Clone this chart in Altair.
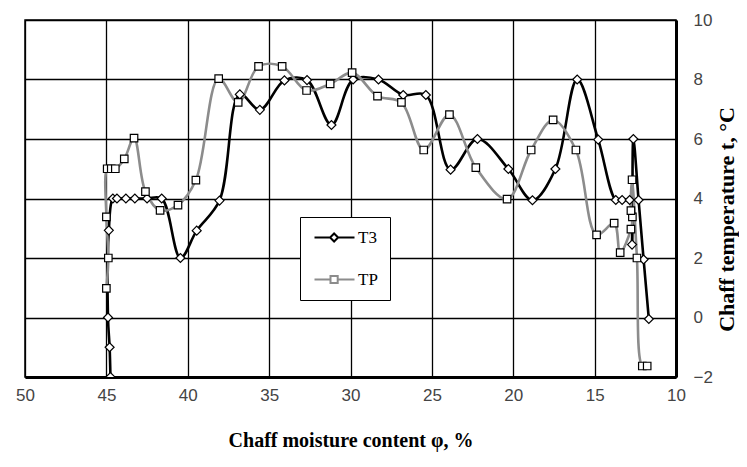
import altair as alt
import pandas as pd

series_names = ["T3", "TP"]

t3_moisture = [44.75, 44.8, 44.9, 44.85, 44.6, 44.35, 43.8, 43.25, 42.5, 41.6,
               40.45, 39.45, 38.05, 36.8, 35.57, 34.06, 32.67, 31.17, 29.84, 28.28,
               26.76, 25.37, 23.85, 22.2, 20.3, 18.82, 17.41, 16.07, 14.78, 13.7,
               13.31, 12.85, 12.7, 12.62, 12.3, 11.99, 11.67]
t3_temp = [-2.0, -1.0, 0.0, 2.93, 4.0, 4.0, 4.0, 4.0, 4.0, 4.0,
           2.0, 2.92, 3.93, 7.5, 6.98, 7.97, 7.98, 6.47, 8.0, 8.0,
           7.48, 7.48, 4.97, 6.0, 4.99, 3.94, 4.99, 8.0, 5.98, 3.95,
           3.95, 3.95, 2.45, 6.0, 3.95, 1.95, -0.05]

tp_moisture = [45.0, 44.88, 45.0, 44.95, 44.7, 44.45, 43.9, 43.3, 42.6, 41.7,
               40.6, 39.5, 38.1, 36.9, 35.65, 34.2, 32.7, 31.25, 29.9, 28.34,
               26.87, 25.5, 23.92, 22.3, 20.38, 18.9, 17.55, 16.15, 14.88, 13.8,
               13.43, 12.77, 12.68, 12.77, 12.7, 12.4, 12.07, 11.77]
tp_temp = [0.98, 2.0, 3.38, 5.0, 5.0, 5.0, 5.33, 6.03, 4.23, 3.6,
           3.78, 4.62, 8.03, 7.23, 8.44, 8.44, 7.63, 7.85, 8.23, 7.44,
           7.23, 5.63, 6.82, 5.04, 3.98, 5.63, 6.64, 5.63, 2.78, 3.17,
           2.18, 2.97, 3.38, 3.59, 4.63, 2.0, -1.63, -1.63]

x_ticks = [50, 45, 40, 35, 30, 25, 20, 15, 10]
y_ticks = [-2, 0, 2, 4, 6, 8, 10]

series_colors = ["#000000", "#8c8c8c"]

rows = []
for i, (m, t) in enumerate(zip(t3_moisture, t3_temp)):
    rows.append({"series": "T3", "moisture": m, "temp": t, "idx": i})
for i, (m, t) in enumerate(zip(tp_moisture, tp_temp)):
    rows.append({"series": "TP", "moisture": m, "temp": t, "idx": i})
df = pd.DataFrame(rows)
legend_df = pd.DataFrame({"series": series_names})

x_enc = alt.X(
    "moisture:Q",
    scale=alt.Scale(domain=[10, 50], reverse=True, nice=False, zero=False),
    axis=alt.Axis(
        values=x_ticks, title="Chaff moisture content φ, %",
        ticks=False, labelPadding=10, labelFont="Liberation Sans", labelFontSize=17,
        labelColor="#444444", domainColor="black", domainWidth=3,
        grid=True, gridColor="black", gridWidth=1.3,
        titleFont="Liberation Serif", titleFontWeight="bold", titleFontSize=20,
        titleColor="black", titleBaseline="middle", titleY=63,
        labelFlush=False,
    ),
)
y_enc = alt.Y(
    "temp:Q",
    scale=alt.Scale(domain=[-2, 10], nice=False, zero=False),
    axis=alt.Axis(
        orient="right", values=y_ticks, title="Chaff temperature t, °C",
        ticks=False, labelPadding=17, labelAlign="left", labelFont="Liberation Sans",
        labelFontSize=17, labelColor="#444444", domainColor="black", domainWidth=3,
        grid=True, gridColor="black", gridWidth=1.3,
        titleFont="Liberation Serif", titleFontWeight="bold", titleFontSize=22,
        titleColor="black", titleAngle=270, titleAlign="center", titleBaseline="middle",
        titleX=50, titleY=199, labelFlush=False,
    ),
)

lines = alt.Chart(df).mark_line(interpolate="catmull-rom", strokeWidth=2.6, clip=True).encode(
    x=x_enc,
    y=y_enc,
    color=alt.Color("series:N", scale=alt.Scale(domain=series_names, range=series_colors), legend=None),
    order=alt.Order("idx:Q"),
)

points = alt.Chart(df).mark_point(filled=True, fill="white", stroke="black", strokeWidth=1.2, opacity=1, clip=True).encode(
    x=x_enc,
    y=y_enc,
    shape=alt.Shape("series:N", scale=alt.Scale(domain=series_names, range=["diamond", "square"]), legend=None),
    size=alt.Size("series:N", scale=alt.Scale(domain=series_names, range=[80, 56]), legend=None),
)

path_t3 = "M-1.5,0L2.4,0M4.4,0L8.5,0M3.4,-1L4.4,0L3.4,1L2.4,0Z"
path_tp = "M-1.5,0L2.5,0M4.3,0L8.5,0M2.5,-0.9L4.3,-0.9L4.3,0.9L2.5,0.9Z"

leg = alt.Legend(
    title=None, orient="none", legendX=275, legendY=197,
    strokeColor="black", fillColor="white", padding=12, rowPadding=24,
    labelFont="Liberation Serif", labelFontSize=17, labelColor="black",
    labelOffset=29, symbolSize=64, symbolStrokeWidth=2, symbolFillColor="white",
    symbolOpacity=1,
)

legend_layer = alt.Chart(legend_df).mark_point(filled=False, size=64, strokeWidth=2, opacity=1, clip=True).encode(
    x=alt.value(-500),
    y=alt.value(-500),
    color=alt.Color("series:N", scale=alt.Scale(domain=series_names, range=series_colors), legend=leg),
    shape=alt.Shape("series:N", scale=alt.Scale(domain=series_names, range=[path_t3, path_tp]), legend=leg),
)

chart = alt.layer(lines, points, legend_layer).resolve_scale(
    shape="independent", color="independent"
).properties(
    width=651,
    height=357,
    autosize=alt.AutoSizeParams(type="none"),
    padding={"left": 17, "top": 12, "right": 63, "bottom": 78},
).configure_view(stroke="black", strokeWidth=1.5)

chart.save("out.html", embed_options={"renderer": "svg", "actions": False})
